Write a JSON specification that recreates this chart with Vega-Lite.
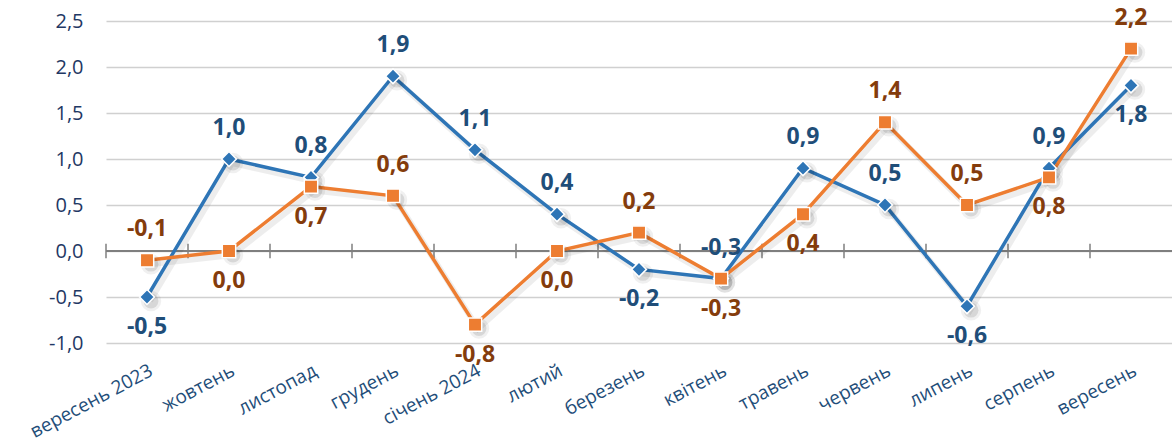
{
  "$schema": "https://vega.github.io/schema/vega-lite/v6.json",
  "width": 1066,
  "height": 322,
  "autosize": {"type": "none"},
  "padding": {"left": 106, "top": 21, "right": 0, "bottom": 100},
  "background": "white",
  "config": {"view": {"stroke": null}, "font": "Open Sans"},
  "data": {"values": [
    {"m": "вересень 2023", "blue": -0.5, "orange": -0.1},
    {"m": "жовтень", "blue": 1.0, "orange": 0.0},
    {"m": "листопад", "blue": 0.8, "orange": 0.7},
    {"m": "грудень", "blue": 1.9, "orange": 0.6},
    {"m": "січень 2024", "blue": 1.1, "orange": -0.8},
    {"m": "лютий", "blue": 0.4, "orange": 0.0},
    {"m": "березень", "blue": -0.2, "orange": 0.2},
    {"m": "квітень", "blue": -0.3, "orange": -0.3},
    {"m": "травень", "blue": 0.9, "orange": 0.4},
    {"m": "червень", "blue": 0.5, "orange": 1.4},
    {"m": "липень", "blue": -0.6, "orange": 0.5},
    {"m": "серпень", "blue": 0.9, "orange": 0.8},
    {"m": "вересень", "blue": 1.8, "orange": 2.2}
  ]},
  "transform": [
    {"fold": ["blue", "orange"], "as": ["s", "v"]},
    {"calculate": "datum.s == 'blue' ? indexof(['вересень 2023','березень','липень','вересень'], datum.m) < 0 : indexof(['вересень 2023','грудень','березень','червень','липень','вересень'], datum.m) >= 0", "as": "above"},
    {"calculate": "replace(replace(format(datum.v, '.1f'), '.', ','), '−', '-')", "as": "lab"}
  ],
  "encoding": {
    "x": {"field": "m", "type": "nominal", "sort": null, "bandPosition": 0.5,
      "scale": {"type": "band", "paddingInner": 0, "paddingOuter": 0},
      "axis": {"orient": "bottom", "domain": false, "ticks": false, "grid": false, "labelAngle": -28, "labelFontSize": 19, "labelColor": "#1F4E79", "labelPadding": 18, "labelOverlap": false, "labelBound": false, "labelLimit": 300, "title": null}},
    "y": {"field": "v", "type": "quantitative",
      "scale": {"domain": [-1, 2.5], "nice": false, "zero": false},
      "axis": {"values": [-1, -0.5, 0, 0.5, 1, 1.5, 2, 2.5], "labelExpr": "replace(replace(format(datum.value, '.1f'), '.', ','), '−', '-')", "domain": false, "ticks": false, "labelPadding": 23, "labelFontSize": 20, "labelColor": "#1F3864", "gridColor": "#D0D0D0", "gridWidth": 1.5, "title": null}}
  },
  "layer": [
    {
      "mark": {"type": "rule", "color": "#7F7F7F", "strokeWidth": 1.5},
      "encoding": {"x": null, "y": {"datum": 0}}
    },
    {
      "transform": [{"filter": "datum.s == 'blue'"}],
      "mark": {"type": "rule", "color": "#7F7F7F", "strokeWidth": 1.5},
      "encoding": {
        "x": {"field": "m", "type": "nominal", "sort": null, "bandPosition": 0},
        "y": {"datum": -0.08},
        "y2": {"datum": 0.08}
      }
    },
    {
      "mark": {"type": "line", "color": "#000000", "strokeWidth": 6, "opacity": 0.07, "xOffset": 3, "yOffset": 4},
      "encoding": {"detail": {"field": "s"}}
    },
    {
      "transform": [{"filter": "datum.s == 'blue'"}],
      "mark": {"type": "line", "color": "#2E75B6", "strokeWidth": 3.5}
    },
    {
      "transform": [{"filter": "datum.s == 'orange'"}],
      "mark": {"type": "line", "color": "#ED7D31", "strokeWidth": 3.5}
    },
    {
      "mark": {"type": "point", "shape": "circle", "filled": true, "fill": "#000000", "size": 420, "opacity": 0.06, "xOffset": 4, "yOffset": 4}
    },
    {
      "mark": {"type": "point", "shape": "circle", "filled": true, "fill": "#000000", "size": 220, "opacity": 0.1, "xOffset": 4, "yOffset": 4}
    },
    {
      "transform": [{"filter": "datum.s == 'blue'"}],
      "mark": {"type": "point", "shape": "diamond", "filled": true, "fill": "#2E75B6", "stroke": "white", "strokeWidth": 1.5, "size": 220, "opacity": 1}
    },
    {
      "transform": [{"filter": "datum.s == 'orange'"}],
      "mark": {"type": "point", "shape": "square", "filled": true, "fill": "#ED7D31", "stroke": "white", "strokeWidth": 1.5, "size": 180, "opacity": 1}
    },
    {
      "transform": [{"filter": "datum.above"}],
      "mark": {"type": "text", "dy": -31, "fontSize": 23, "fontWeight": "bold", "baseline": "middle", "align": "center"},
      "encoding": {
        "text": {"field": "lab"},
        "color": {"field": "s", "type": "nominal", "scale": {"domain": ["blue", "orange"], "range": ["#1F4E79", "#843C0C"]}, "legend": null}
      }
    },
    {
      "transform": [{"filter": "!datum.above"}],
      "mark": {"type": "text", "dy": 30, "fontSize": 23, "fontWeight": "bold", "baseline": "middle", "align": "center"},
      "encoding": {
        "text": {"field": "lab"},
        "color": {"field": "s", "type": "nominal", "scale": {"domain": ["blue", "orange"], "range": ["#1F4E79", "#843C0C"]}, "legend": null}
      }
    }
  ]
}
